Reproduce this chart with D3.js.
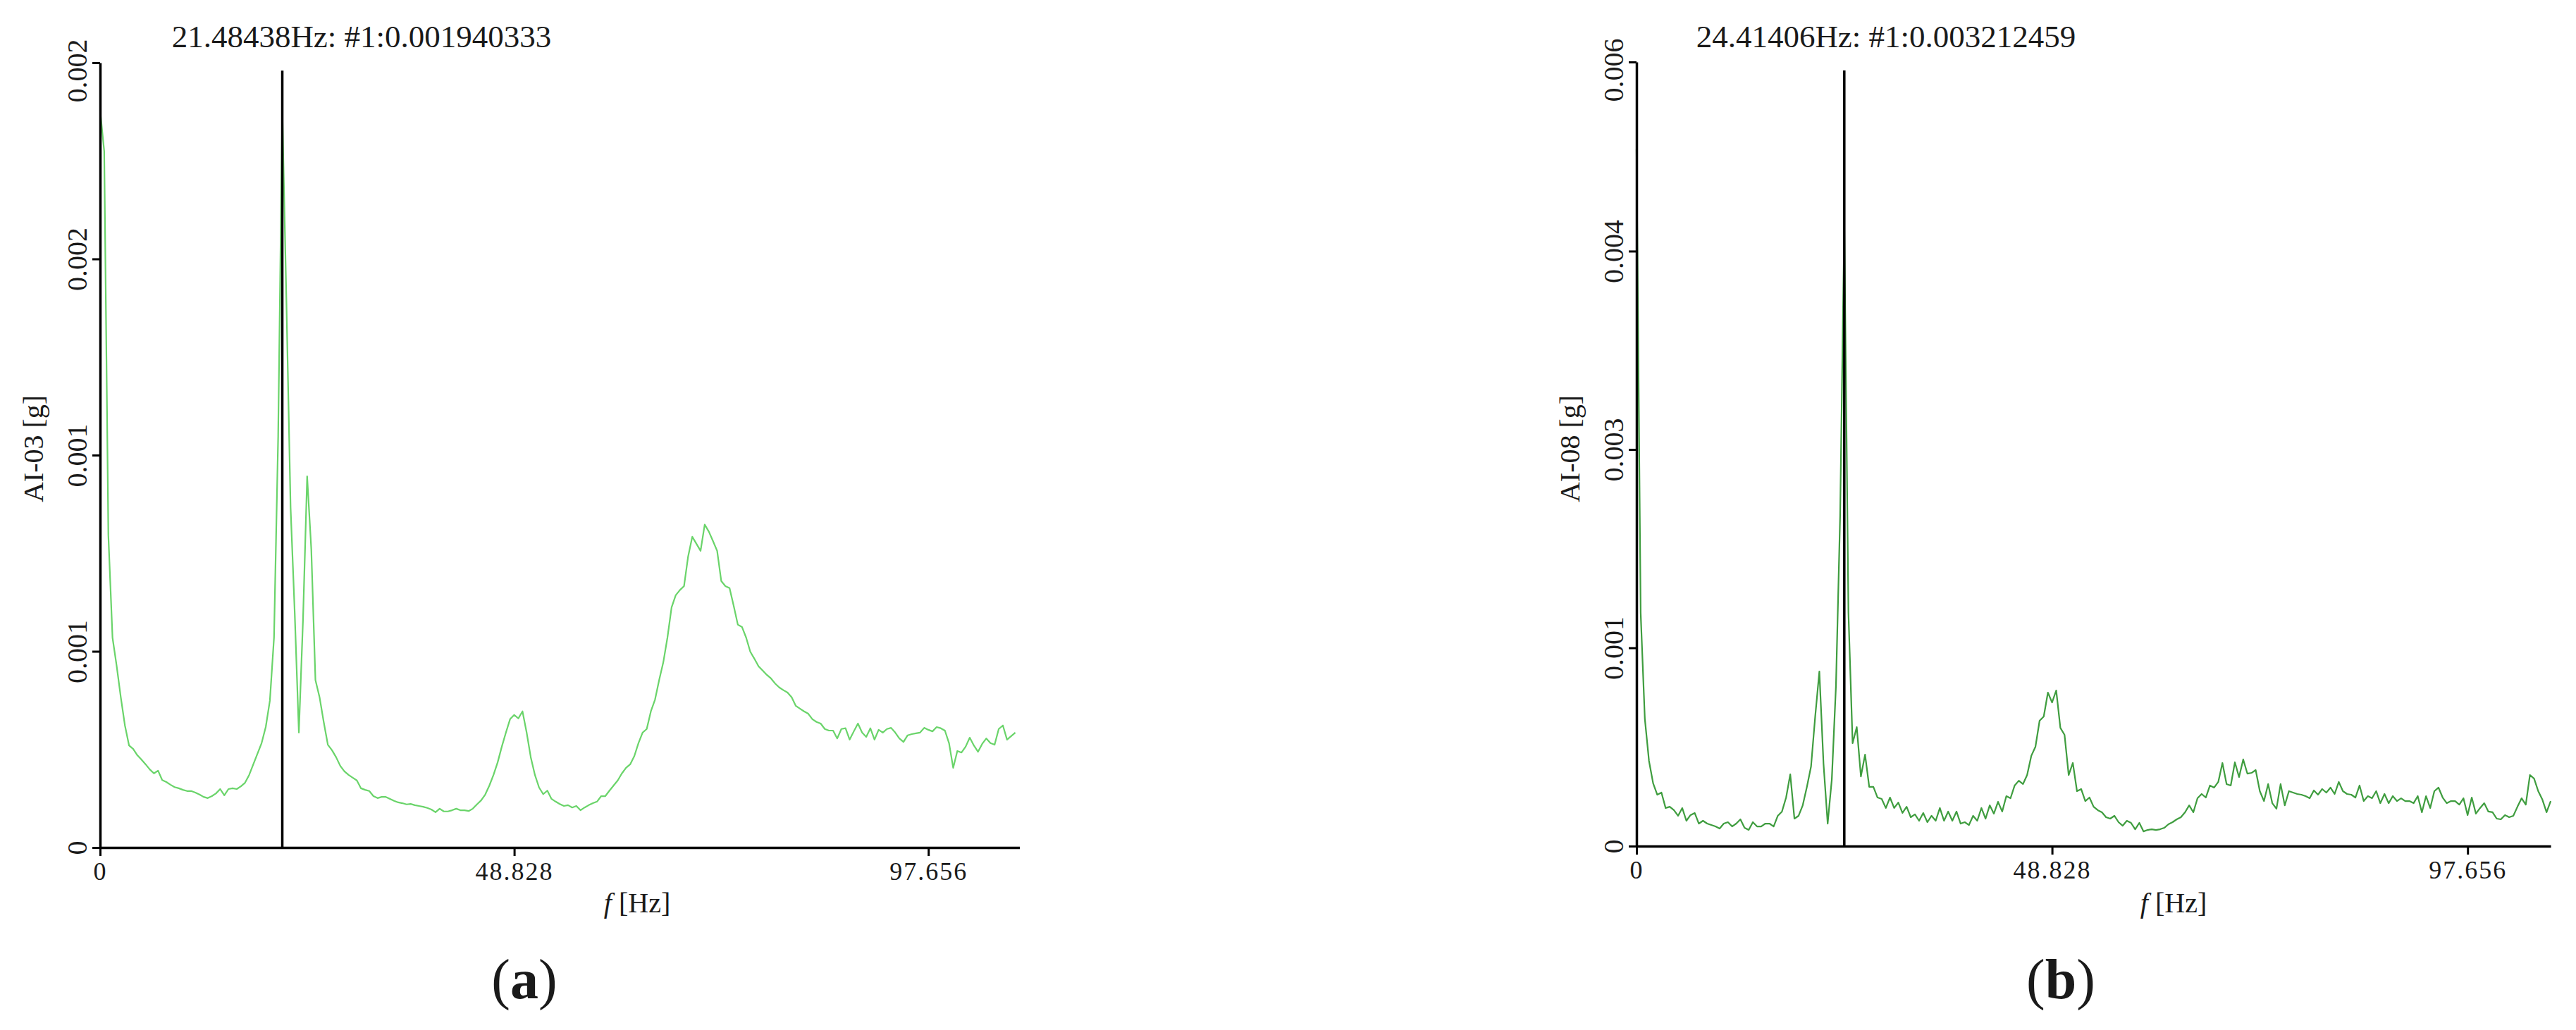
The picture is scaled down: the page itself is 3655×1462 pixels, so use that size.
<!DOCTYPE html>
<html><head><meta charset="utf-8">
<script src="https://cdn.jsdelivr.net/npm/d3@7"></script>
<style>
html,body{margin:0;padding:0;background:#fff;}
svg{display:block;}
text{font-family:"Liberation Serif","Times New Roman",serif;fill:#1a1a1a;}
</style></head><body>
<svg id="chart" width="3655" height="1462"></svg>
<script>
// spectral line spacing (Hz)
const DF = 0.48828125;

// (a) AI-03 amplitude spectrum, values in micro-g (1e-6 g), one per spectral line
const ampA = [
1880,1774,796,535,463,383,311,260,251,235,
224,212,199,189,196,172,167,160,154,151,
147,144,144,140,135,129,126,131,138,149,
133,149,151,149,156,165,185,212,239,266,
307,374,535,1047,1880,1388,867,598,293,580,
946,760,427,383,320,262,248,230,208,194,
185,178,171,151,147,144,131,126,129,129,
124,119,115,113,110,111,108,106,104,101,
97,90,99,92,92,95,99,95,95,93,
99,110,120,135,158,185,217,257,293,327,
338,329,347,293,230,185,153,136,145,124,
117,111,106,108,102,106,95,102,108,113,
117,131,131,145,158,171,189,203,212,233,
266,293,302,347,377,427,472,535,612,643,
656,666,742,792,774,756,823,805,781,756,
679,666,661,616,568,562,535,499,481,462,
451,440,431,418,408,401,395,383,361,354,
347,341,327,320,316,302,298,298,278,302,
304,275,296,316,293,282,304,275,300,293,
302,305,293,278,269,286,289,291,293,305,
300,296,307,304,298,266,203,246,242,257,
280,260,244,264,278,266,262,302,311,275,
284,293
];

// (b) AI-08 amplitude spectrum, values in micro-g (1e-6 g)
const ampB = [
4918,1646,900,602,443,363,378,269,278,254,
214,269,179,219,234,159,179,159,149,139,
124,159,169,139,159,189,129,114,169,139,
139,159,159,139,214,244,343,507,194,214,
288,418,562,915,1233,582,159,472,1134,2332,
4396,1646,726,840,492,646,418,418,343,333,
269,343,269,308,234,278,204,224,179,234,
169,214,179,269,179,244,179,244,159,169,
149,214,179,269,194,288,229,313,244,353,
338,428,462,438,502,637,701,885,915,1084,
1014,1099,835,786,502,587,388,403,318,343,
278,254,239,204,194,214,169,144,179,164,
119,164,104,114,119,114,119,129,154,169,
189,204,239,288,239,338,368,343,428,413,
453,587,438,428,592,487,612,512,517,537,
388,318,438,303,264,438,288,388,378,368,
363,353,338,393,363,403,378,413,368,453,
388,368,363,343,428,318,353,338,388,303,
368,303,353,318,338,318,318,303,353,239,
353,269,388,413,343,303,318,318,293,338,
219,343,229,269,303,244,239,194,189,219,
204,214,278,338,293,502,477,388,328,239,
318
];

const titles = ["21.48438Hz: #1:0.001940333", "24.41406Hz: #1:0.003212459"];
const yAxisTitles = ["AI-03 [g]", "AI-08 [g]"];
const panelLetters = ["a", "b"];
const xTickValues = [0, 48.828125, 97.65625];
const xTickLabels = ["0", "48.828", "97.656"];
const yTicksA = [0, 0.0005, 0.001, 0.0015, 0.002];
const yTickLabelsA = ["0", "0.001", "0.001", "0.002", "0.002"];
const yTicksB = [0, 0.0014, 0.0028, 0.0042, 0.005535];
const yTickLabelsB = ["0", "0.001", "0.003", "0.004", "0.006"];
const xMaxA = 108.4, xMaxB = 107.42;
const yMaxA = 0.002, yMaxB = 0.005535;
// cursor: [frequency Hz, top value g]
const cursorA = [21.48438, 0.00198];
const cursorB = [24.41406, 0.005475];

const svg = d3.select("#chart");

function drawPanel(cfg) {
  const x = d3.scaleLinear().domain([0, cfg.xMax]).range([cfg.x0, cfg.x1]);
  const y = d3.scaleLinear().domain([0, cfg.yMax]).range([cfg.yB, cfg.yT]);
  const g = svg.append("g");

  // spectrum line
  const line = d3.line().x((d, i) => x(i * DF)).y(d => y(d * 1e-6));
  g.append("path").datum(cfg.data)
    .attr("d", line).attr("fill", "none")
    .attr("stroke", cfg.color).attr("stroke-width", 2.2)
    .attr("stroke-linejoin", "round");

  // cursor line
  g.append("line")
    .attr("x1", x(cfg.cursor[0])).attr("x2", x(cfg.cursor[0]))
    .attr("y1", y(0)).attr("y2", y(cfg.cursor[1]))
    .attr("stroke", "#000").attr("stroke-width", 3.5);

  // y axis
  const ya = g.append("g").attr("transform", `translate(${cfg.x0},0)`)
    .call(d3.axisLeft(y).tickValues(cfg.yTicks)
      .tickFormat((d, i) => cfg.yTickLabels[i]).tickSize(11).tickSizeOuter(0));
  ya.select(".domain").attr("stroke", "#000").attr("stroke-width", 3.5);
  ya.selectAll(".tick line").attr("stroke", "#000").attr("stroke-width", 3);
  ya.selectAll(".tick text")
    .attr("x", null).attr("dy", null).attr("y", null)
    .attr("text-anchor", "middle")
    .attr("transform", (d, i) => `translate(-19,${i === cfg.yTicks.length - 1 ? 11 : 0}) rotate(-90)`)
    .style("font-size", "40px")
    .style("font-family", '"Liberation Serif", serif')
    .attr("fill", "#1a1a1a");

  // x axis
  const xa = g.append("g").attr("transform", `translate(0,${cfg.yB})`)
    .call(d3.axisBottom(x).tickValues(xTickValues)
      .tickFormat((d, i) => xTickLabels[i]).tickSize(12).tickSizeOuter(0));
  xa.select(".domain").attr("stroke", "#000").attr("stroke-width", 3.5);
  xa.selectAll(".tick line").attr("stroke", "#000").attr("stroke-width", 3);
  xa.selectAll(".tick text")
    .attr("y", 46).attr("dy", null)
    .style("font-size", "36px").style("letter-spacing", "2px")
    .style("font-family", '"Liberation Serif", serif')
    .attr("fill", "#1a1a1a");

  // title
  g.append("text").attr("x", cfg.titleX).attr("y", 67)
    .attr("text-anchor", "middle").style("font-size", "45px").text(cfg.title);

  // y axis title
  g.append("text").attr("transform", `translate(${cfg.x0 - 81},637) rotate(-90)`)
    .attr("text-anchor", "middle").style("font-size", "40px").text(cfg.yTitle);

  // x axis title
  const xt = g.append("text").attr("x", cfg.x0 + 762).attr("y", 1295)
    .attr("text-anchor", "middle").style("font-size", "40px");
  xt.append("tspan").style("font-style", "italic").text("f");
  xt.append("tspan").text(" [Hz]");

  // panel label
  const pl = g.append("text").attr("x", cfg.x0 + 602).attr("y", 1417)
    .attr("text-anchor", "middle").style("font-size", "80px");
  pl.append("tspan").text("(");
  pl.append("tspan").style("font-weight", "bold").text(cfg.letter);
  pl.append("tspan").text(")");
}

drawPanel({
  data: ampA, color: "#6ad46a",
  x0: 142, x1: 142 + xMaxA * 12.034, xMax: xMaxA,
  yB: 1203, yT: 89, yMax: yMaxA,
  yTicks: yTicksA, yTickLabels: yTickLabelsA,
  cursor: cursorA, title: titles[0], titleX: 513,
  yTitle: yAxisTitles[0], letter: panelLetters[0]
});
drawPanel({
  data: ampB, color: "#3f9d3f",
  x0: 2322, x1: 2322 + xMaxB * 12.075, xMax: xMaxB,
  yB: 1201, yT: 88, yMax: yMaxB,
  yTicks: yTicksB, yTickLabels: yTickLabelsB,
  cursor: cursorB, title: titles[1], titleX: 2676,
  yTitle: yAxisTitles[1], letter: panelLetters[1]
});
</script>
</body></html>
